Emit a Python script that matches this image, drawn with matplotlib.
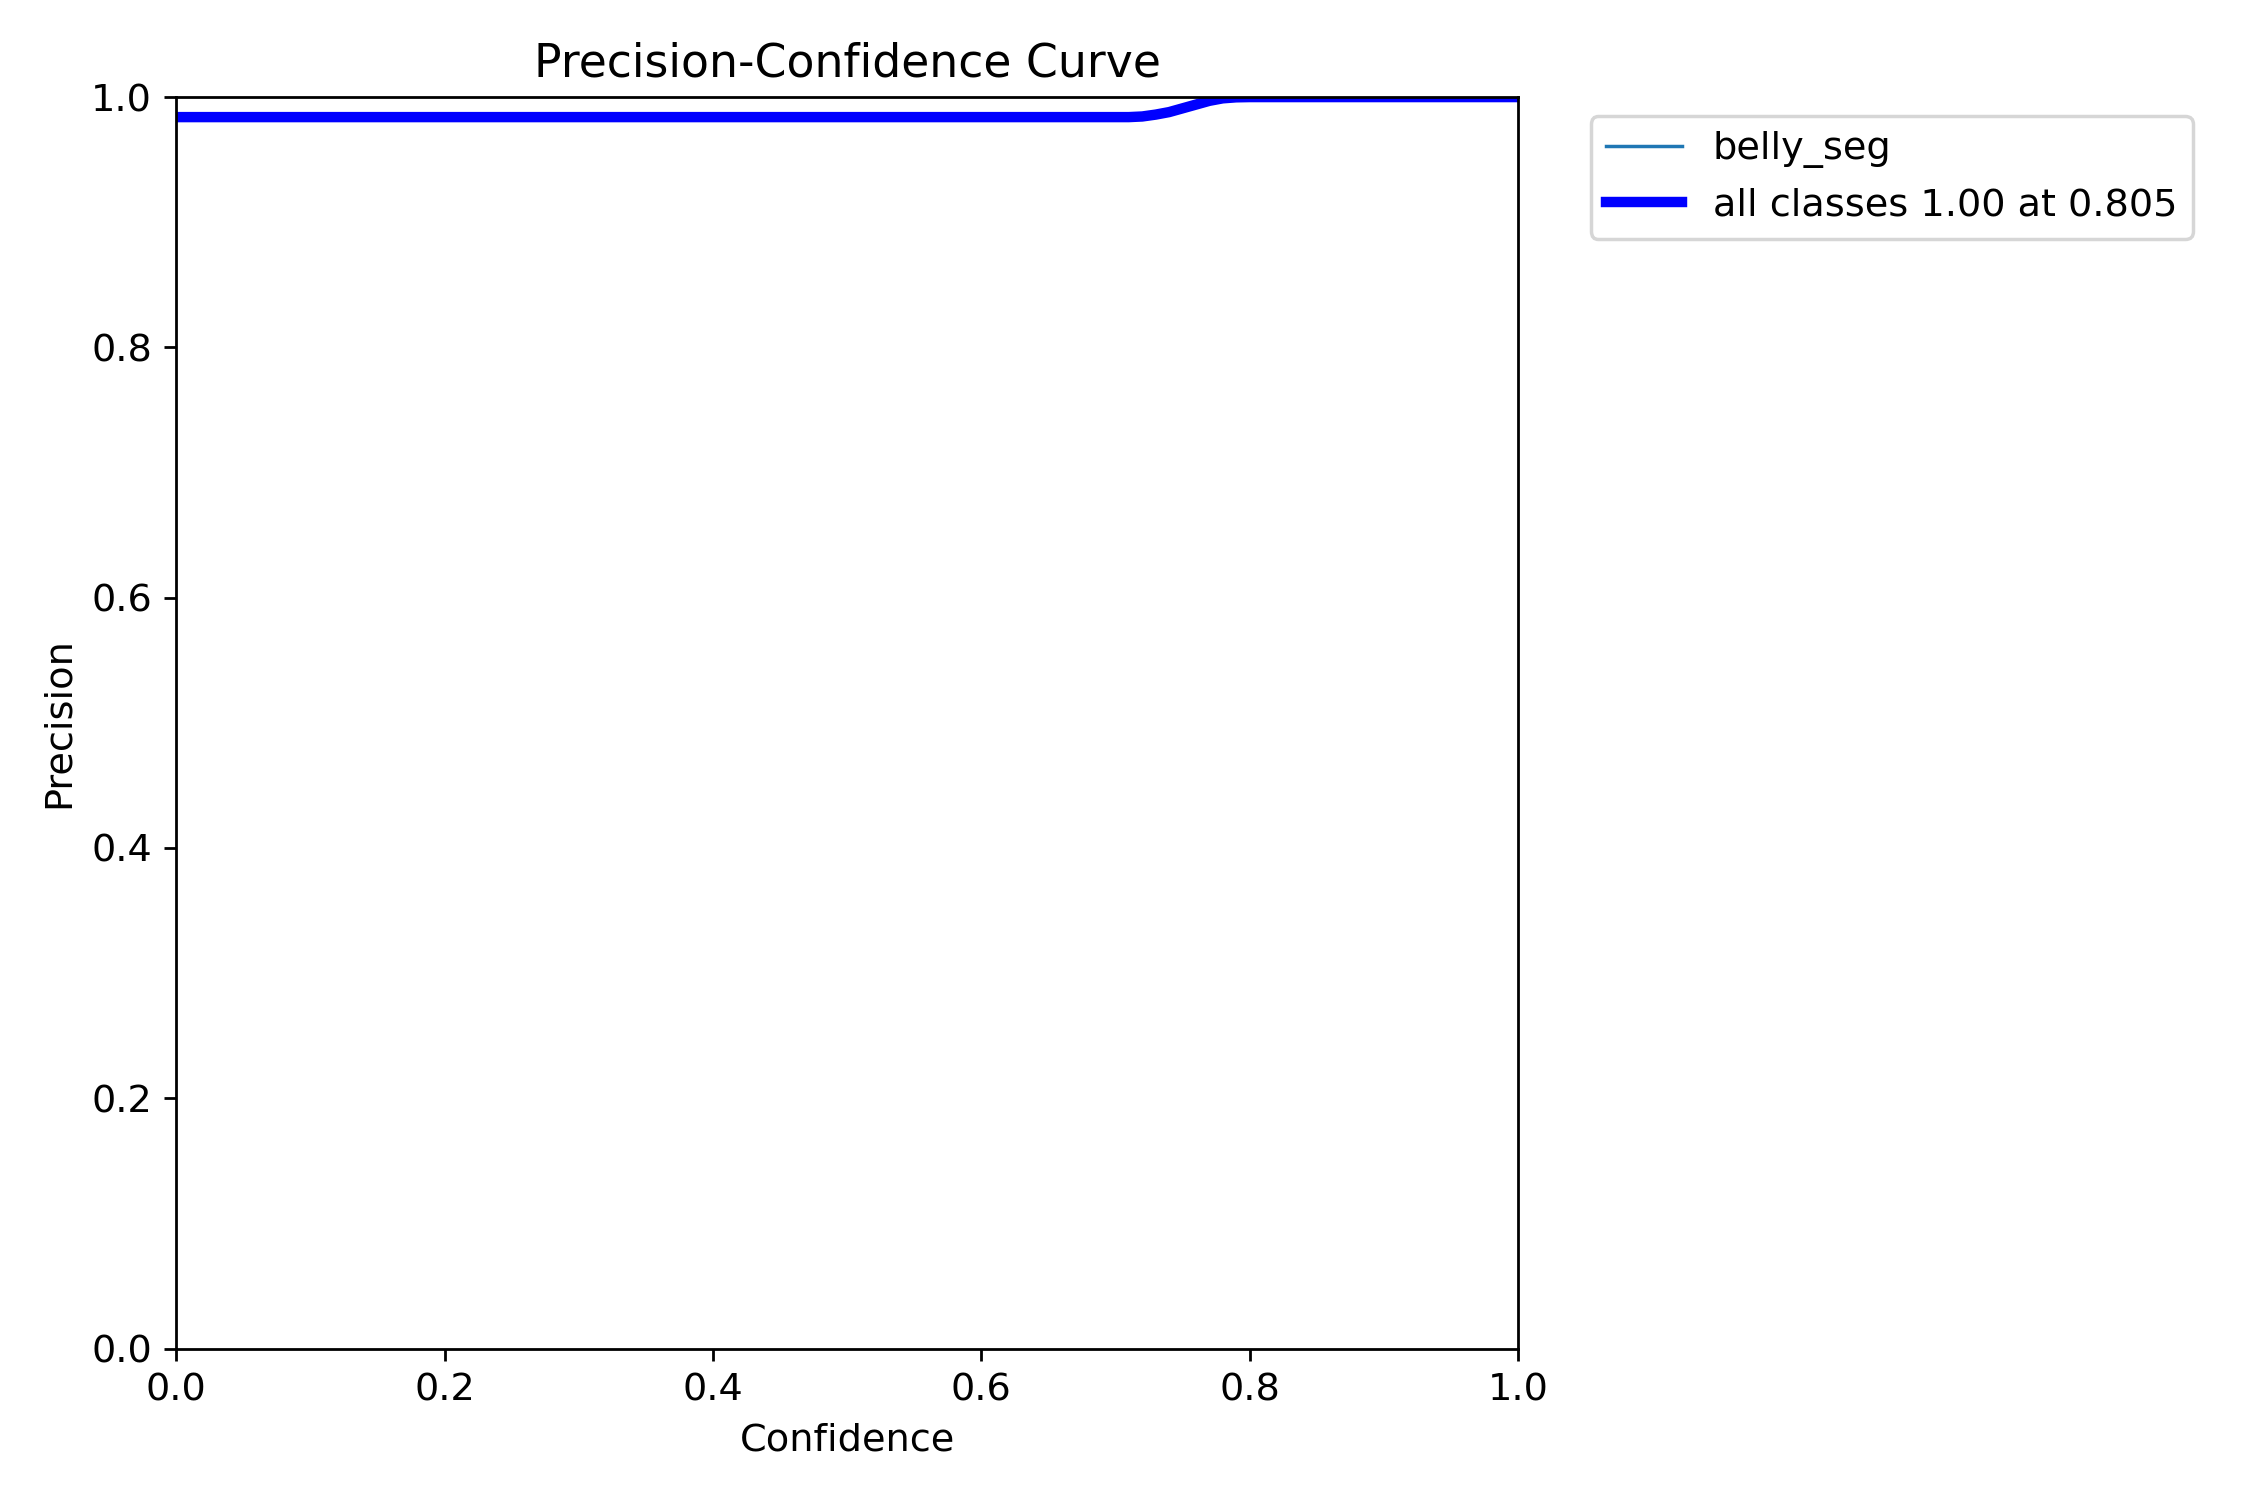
import numpy as np
import matplotlib
matplotlib.use('Agg')
import matplotlib.pyplot as plt

# precision vs confidence
conf = [0.0, 0.70, 0.71, 0.72, 0.73, 0.74, 0.75, 0.76, 0.77, 0.78, 0.79, 0.80, 1.0]
prec = [0.984, 0.984, 0.984, 0.9845, 0.986, 0.988, 0.991, 0.994, 0.997, 0.999, 0.9998, 1.0, 1.0]
className = 'belly_seg'
bestPrec = 1.00
bestConf = 0.805

plt.rcParams['font.size'] = 11
fig, ax = plt.subplots(1, 1, figsize=(9, 6), tight_layout=True)
ax.plot(conf, prec, linewidth=1, label=className)
ax.plot(conf, prec, linewidth=3, color='blue',
        label='all classes {:.2f} at {:.3f}'.format(bestPrec, bestConf))
ax.set_xlabel('Confidence')
ax.set_ylabel('Precision')
ax.set_xlim(0, 1)
ax.set_ylim(0, 1)
ax.legend(bbox_to_anchor=(1.04, 1), loc='upper left')
ax.set_title('Precision-Confidence Curve')
fig.savefig('out.png', dpi=250)
